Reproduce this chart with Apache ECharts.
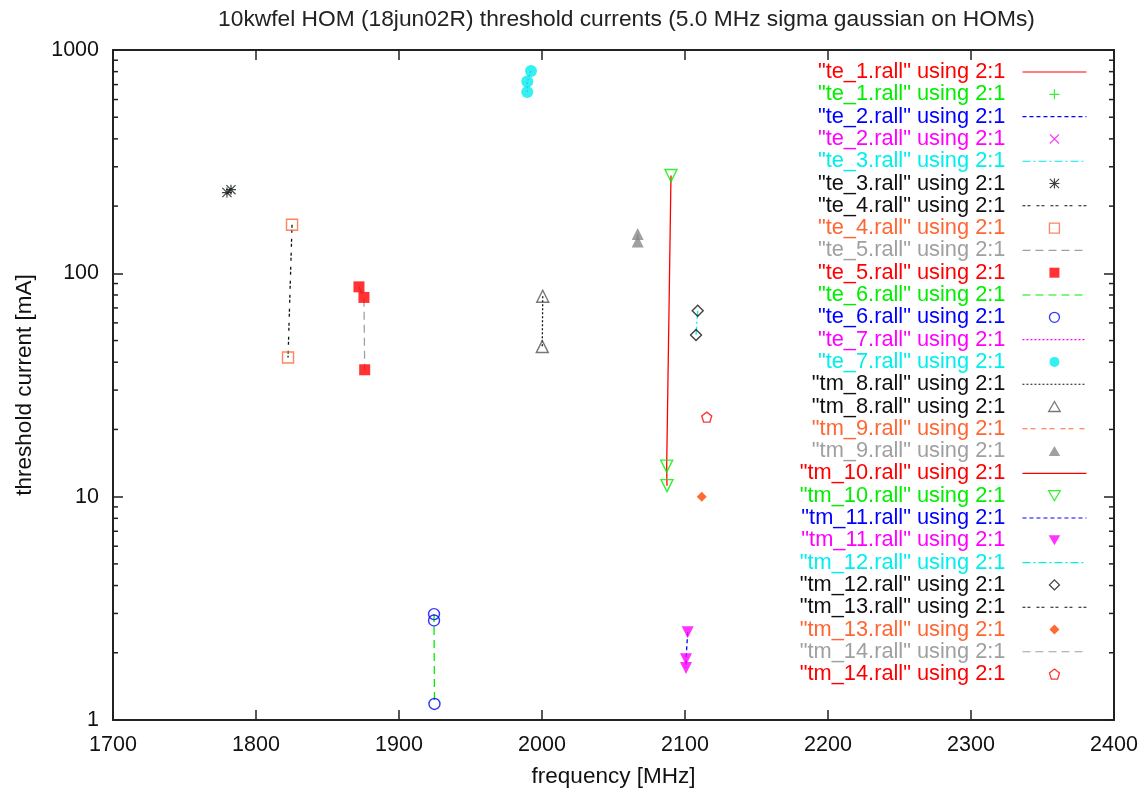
<!DOCTYPE html>
<html>
<head>
<meta charset="utf-8">
<script src="https://cdn.jsdelivr.net/npm/echarts@6/dist/echarts.min.js"></script>
<style>
html,body{margin:0;padding:0;background:#fff;}
#chart{width:1145px;height:793px;}
</style>
</head>
<body>
<div id="chart"></div>
<script>
// ---- data (frequency MHz, threshold current mA) ----
var te_1 = [];
var te_2 = [];
var te_3 = [[1779.7, 230], [1782.5, 237]];
var te_4 = [[1825.2, 165], [1822.4, 42]];
var te_5 = [[1872, 87], [1875.5, 78], [1876, 37]];
var te_6 = [[1924.5, 2.98], [1924.5, 2.79], [1924.8, 1.18]];
var te_7 = [[1992.3, 806], [1989.7, 722], [1989.7, 648]];
var tm_8 = [[2000.5, 79], [2000.2, 47]];
var tm_9 = [[2066.9, 150], [2066.9, 139]];
var tm_10 = [[2090.2, 274], [2087.2, 13.7], [2087.4, 11.2]];
var tm_11 = [[2101.9, 2.47], [2100.7, 1.87], [2100.7, 1.71]];
var tm_12 = [[2108.9, 68], [2107.7, 53]];
var tm_13 = [[2111.7, 10]];
var tm_14 = [[2115.2, 22.7]];

var fileNames = ['te_1','te_2','te_3','te_4','te_5','te_6','te_7','tm_8','tm_9','tm_10','tm_11','tm_12','tm_13','tm_14'];
var fileData = [te_1, te_2, te_3, te_4, te_5, te_6, te_7, tm_8, tm_9, tm_10, tm_11, tm_12, tm_13, tm_14];

// tick labels
var xTicks = [1700, 1800, 1900, 2000, 2100, 2200, 2300, 2400];
var yTicks = [1, 10, 100, 1000];
var yMinorTicks = [2,3,4,5,6,7,8,9,20,30,40,50,60,70,80,90,200,300,400,500,600,700,800,900];

var titleText = '10kwfel HOM (18jun02R) threshold currents (5.0 MHz sigma gaussian on HOMs)';
var xName = 'frequency [MHz]';
var yName = 'threshold current [mA]';

// ---- styles ----
var FONT = 'Liberation Sans';
var palette = ['#ff0000','#00ee00','#0000ff','#ff00ff','#00eeee','#111111','#111111','#ff6633','#a0a0a0'];
var lineDash = ['solid',[4,3],[8,3,2,3],[3,2,3,6],[8,5],[8,5],[2,2],[2,2],[5,3,5,6],'solid',[4,3],[8,3,2,3],[3,2,3,6],[8,5]];
var PLUS = 'path://M4.4,0H5.6V4.4H10V5.6H5.6V10H4.4V5.6H0V4.4H4.4Z';
var CROSS = 'path://M0.8,0L5,4.2L9.2,0L10,0.8L5.8,5L10,9.2L9.2,10L5,5.8L0.8,10L0,9.2L4.2,5L0,0.8Z';
var STAR = 'path://M4.4,0H5.6V10H4.4Z M0,4.4H10V5.6H0Z M0.8,0L10,9.2L9.2,10L0,0.8Z M9.2,0L10,0.8L0.8,10L0,9.2Z';
var PENT = 'path://M5,0L10,3.8L8.1,10L1.9,10L0,3.8Z';
var SQUARE = 'path://M0,0H10V10H0Z';
var CIRCLE = 'path://M5,0A5,5 0 1,1 5,10A5,5 0 1,1 5,0Z';
var TRI_UP = 'path://M5,0L10,8.66L0,8.66Z';
var TRI_DN = 'path://M0,0L10,0L5,8.66Z';
var DIAMOND = 'path://M5,0L10,5L5,10L0,5Z';
var pointSym = [
  {symbol: PLUS, size: 10},
  {symbol: CROSS, size: 10},
  {symbol: STAR, size: 10},
  {symbol: SQUARE, size: 11, hollow: true},
  {symbol: SQUARE, size: 11},
  {symbol: CIRCLE, size: 11, hollow: true},
  {symbol: CIRCLE, size: 12},
  {symbol: TRI_UP, size: 12, hollow: true, color: '#555'},
  {symbol: TRI_UP, size: 12, color: '#888'},
  {symbol: TRI_DN, size: 12, hollow: true},
  {symbol: TRI_DN, size: 12},
  {symbol: DIAMOND, size: 11, hollow: true},
  {symbol: DIAMOND, size: 10, color: '#ff4500'},
  {symbol: PENT, size: 10, hollow: true}
];

var series = [];
var legendData = [];
fileNames.forEach(function (fn, i) {
  var lineColor = palette[(2 * i) % 9];
  var ptColor = palette[(2 * i + 1) % 9];
  var ps = pointSym[i];
  var lname = fn + '.rall|L';
  var pname = fn + '.rall|P';
  series.push({
    type: 'line', name: lname, data: fileData[i],
    symbol: 'none', showSymbol: false, animation: false, silent: true,
    lineStyle: {color: lineColor, width: 1.3, type: lineDash[i]},
    itemStyle: {color: lineColor},
    z: 2
  });
  var c = ps.color || ptColor;
  var isc = ps.hollow
    ? {color: 'rgba(255,255,255,0)', borderColor: c, borderWidth: 1.4}
    : {color: c};
  series.push({
    type: 'scatter', name: pname, data: fileData[i],
    symbol: ps.symbol, symbolSize: ps.size,
    animation: false, silent: true,
    itemStyle: isc,
    z: 3
  });
  legendData.push({name: lname, textStyle: {color: lineColor},
    itemStyle: {color: 'rgba(0,0,0,0)', borderColor: 'rgba(0,0,0,0)', borderWidth: 0}});
  legendData.push({name: pname, textStyle: {color: ptColor}});
});

// minor log ticks on left and right frame (drawn through axis scales)
series.push({
  type: 'custom', name: 'minorTicks', silent: true, animation: false,
  data: yMinorTicks.map(function (v) { return [xTicks[0], v]; }),
  encode: {x: 0, y: 1},
  renderItem: function (params, api) {
    var v = api.value(1);
    var pl = api.coord([xTicks[0], v]);
    var pr = api.coord([xTicks[xTicks.length - 1], v]);
    return {type: 'group', children: [
      {type: 'line', shape: {x1: pl[0], y1: pl[1], x2: pl[0] + 5, y2: pl[1]}, style: {stroke: '#222', lineWidth: 1.5}},
      {type: 'line', shape: {x1: pr[0] - 5, y1: pr[1], x2: pr[0], y2: pr[1]}, style: {stroke: '#222', lineWidth: 1.5}}
    ]};
  },
  z: 1
});

function plain(v) { return String(v); }
var axisLine = {show: true, lineStyle: {color: '#222', width: 2}};
var chart = echarts.init(document.getElementById('chart'), null, {renderer: 'canvas'});
chart.setOption({
  backgroundColor: '#ffffff',
  animation: false,
  textStyle: {fontFamily: FONT},
  title: {
    text: titleText, left: 621.5, top: 3, textAlign: 'center',
    textStyle: {fontFamily: FONT, fontSize: 22.75, fontWeight: 'normal', color: '#222'}
  },
  grid: {left: 113, right: 31, top: 50, bottom: 71, containLabel: false},
  legend: {
    data: legendData, orient: 'vertical', right: 58, top: 61, align: 'right',
    itemWidth: 64, itemHeight: 10, itemGap: 0.3, padding: 0,
    selectedMode: false,
    itemStyle: {borderWidth: 1.3},
    lineStyle: {width: 1.1},
    formatter: function (n) { return '"' + n.split('|')[0] + '" using 2:1'; },
    textStyle: {fontFamily: FONT, fontSize: 21.8, lineHeight: 22, padding: [0, 12, 0, 0]}
  },
  xAxis: [{
    type: 'value', position: 'bottom', min: xTicks[0], max: xTicks[xTicks.length - 1], interval: 100,
    axisLine: axisLine,
    axisTick: {show: true, inside: true, length: 10, lineStyle: {color: '#222', width: 1.5}},
    axisLabel: {color: '#111', fontSize: 21.5, fontFamily: FONT, margin: 14, formatter: plain},
    splitLine: {show: false},
    name: xName, nameLocation: 'middle', nameGap: 45,
    nameTextStyle: {color: '#111', fontSize: 22.5, fontFamily: FONT}
  }, {
    type: 'value', position: 'top', min: xTicks[0], max: xTicks[xTicks.length - 1], interval: 100,
    axisLine: axisLine,
    axisTick: {show: true, inside: true, length: 10, lineStyle: {color: '#222', width: 1.5}},
    axisLabel: {show: false}, splitLine: {show: false}
  }],
  yAxis: [{
    type: 'log', logBase: 10, position: 'left', min: yTicks[0], max: yTicks[yTicks.length - 1],
    axisLine: axisLine,
    axisTick: {show: true, inside: true, length: 10, lineStyle: {color: '#222', width: 1.5}},
    axisLabel: {color: '#111', fontSize: 21.5, fontFamily: FONT, margin: 14, formatter: plain},
    splitLine: {show: false}, minorTick: {show: false},
    name: yName, nameLocation: 'middle', nameGap: 77, nameRotate: 90,
    nameTextStyle: {color: '#111', fontSize: 22.5, fontFamily: FONT}
  }, {
    type: 'log', logBase: 10, position: 'right', min: yTicks[0], max: yTicks[yTicks.length - 1],
    axisLine: axisLine,
    axisTick: {show: true, inside: true, length: 10, lineStyle: {color: '#222', width: 1.5}},
    axisLabel: {show: false}, splitLine: {show: false}
  }],
  series: series
});
</script>
</body>
</html>
